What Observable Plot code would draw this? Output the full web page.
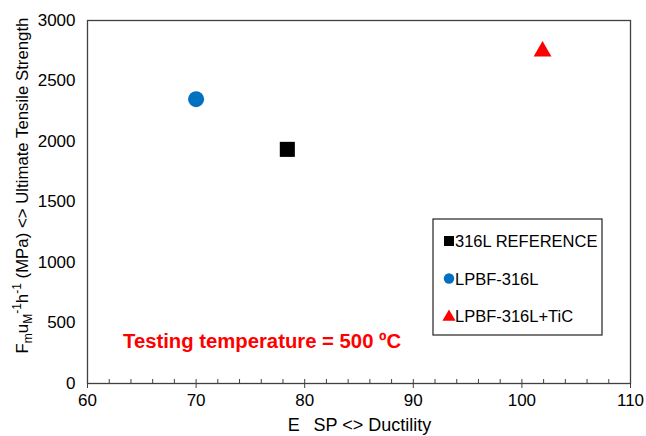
<!DOCTYPE html>
<html>
<head>
<meta charset="utf-8">
<script src="https://cdn.jsdelivr.net/npm/d3@7"></script>
<script src="https://cdn.jsdelivr.net/npm/@observablehq/plot@0.6"></script>
<style>
  html, body { margin: 0; padding: 0; background: #fff; }
  #chart svg { display: block; }
</style>
</head>
<body>
<div id="chart"></div>
<script>
// ---- data ----
const seriesNames = ["316L REFERENCE", "LPBF-316L", "LPBF-316L+TiC"];
const ductility = [78.4, 70.0, 101.9];
const strength = [1935, 2350, 2745];
const seriesColors = ["#000000", "#0070C0", "#FF0000"];
const seriesSymbols = ["square", "circle", "triangle"];
const xTicks = [60, 70, 80, 90, 100, 110];
const xMinorTicks = d3.range(60, 111, 2);
const yTicks = [0, 500, 1000, 1500, 2000, 2500, 3000];
const annotation = "Testing temperature = 500 ºC";
const xLabel = "E\u00a0\u00a0\u2009SP <> Ductility";

const rows = seriesNames.map((name, i) => ({name, x: ductility[i], y: strength[i], color: seriesColors[i], symbol: seriesSymbols[i]}));

const W = 646, H = 436;
const mL = 87, mR = 16, mT = 20, mB = 53;
const font = "'Liberation Sans', Arial, sans-serif";
const axisColor = "#404040";

const dotSize = {square: 8.5, circle: 8, triangle: 6.6};

const plot = Plot.plot({
  width: W, height: H,
  marginLeft: mL, marginRight: mR, marginTop: mT, marginBottom: mB,
  style: {fontFamily: font, fontSize: "17px", color: "#000", background: "#fff"},
  x: {domain: [60, 110]},
  y: {domain: [0, 3000]},
  marks: [
    Plot.frame({stroke: axisColor, strokeWidth: 1.3}),
    Plot.axisY({ticks: yTicks, tickSize: 0, tickPadding: 12, label: null, fontSize: 17, tickFormat: d3.format("d")}),
    Plot.axisX({ticks: xTicks, tickSize: 5, tickPadding: 5, label: null, stroke: axisColor, fontSize: 17, tickFormat: d3.format("d")}),
    Plot.ruleX(xMinorTicks, {x: d => d, y1: 0, y2: 0, insetTop: -4, stroke: axisColor}),
    ...rows.map(d => Plot.dot([d], {x: "x", y: "y", fill: "color", symbol: "symbol", r: dotSize[d.symbol], stroke: null}))
  ]
});

document.getElementById("chart").appendChild(plot);
const svg = d3.select(plot);

// y-axis label with sub/superscripts
const yl = svg.append("text")
  .attr("transform", `translate(28,${(mT + H - mB) / 2 - 16}) rotate(-90)`)
  .attr("text-anchor", "middle")
  .attr("font-family", font)
  .attr("font-size", 16.8)
  .attr("fill", "#000");
yl.append("tspan").text("F");
yl.append("tspan").attr("font-size", 12).attr("dy", 4).text("m");
yl.append("tspan").attr("dy", -4).text("u");
yl.append("tspan").attr("font-size", 12).attr("dy", 4).text("M");
yl.append("tspan").attr("font-size", 12).attr("dy", -11).text("-1");
yl.append("tspan").attr("dy", 7).text("h");
yl.append("tspan").attr("font-size", 12).attr("dy", -7).text("-1");
yl.append("tspan").attr("dy", 7).text(" (MPa) <> Ultimate Tensile Strength");

// x-axis label
svg.append("text")
  .attr("x", (mL + W - mR) / 2 + 1)
  .attr("y", H - 5)
  .attr("text-anchor", "middle")
  .attr("font-family", font)
  .attr("font-size", 18)
  .attr("fill", "#000")
  .text(xLabel);

// annotation
svg.append("text")
  .attr("x", 123)
  .attr("y", 348)
  .attr("text-anchor", "start")
  .attr("font-family", font)
  .attr("font-size", 20.3)
  .attr("font-weight", "bold")
  .attr("fill", "#FF0000")
  .text(annotation);

// legend
const lg = svg.append("g").attr("transform", "translate(433,219)");
lg.append("rect").attr("width", 169).attr("height", 116)
  .attr("fill", "#fff").attr("stroke", "#222").attr("stroke-width", 1.2);
const symMap = {square: d3.symbolSquare, circle: d3.symbolCircle, triangle: d3.symbolTriangle};
const symArea = {square: 100, circle: 85, triangle: 75};
rows.forEach((d, i) => {
  const cy = 22 + i * 37.5;
  lg.append("path")
    .attr("d", d3.symbol(symMap[d.symbol], symArea[d.symbol])())
    .attr("transform", `translate(16,${cy + (d.symbol === "triangle" ? 1 : 0)})`)
    .attr("fill", d.color);
  lg.append("text")
    .attr("x", 22).attr("y", cy + 6)
    .attr("text-anchor", "start")
    .attr("font-family", font).attr("font-size", 16.5).attr("fill", "#000")
    .text(d.name);
});
</script>
</body>
</html>
